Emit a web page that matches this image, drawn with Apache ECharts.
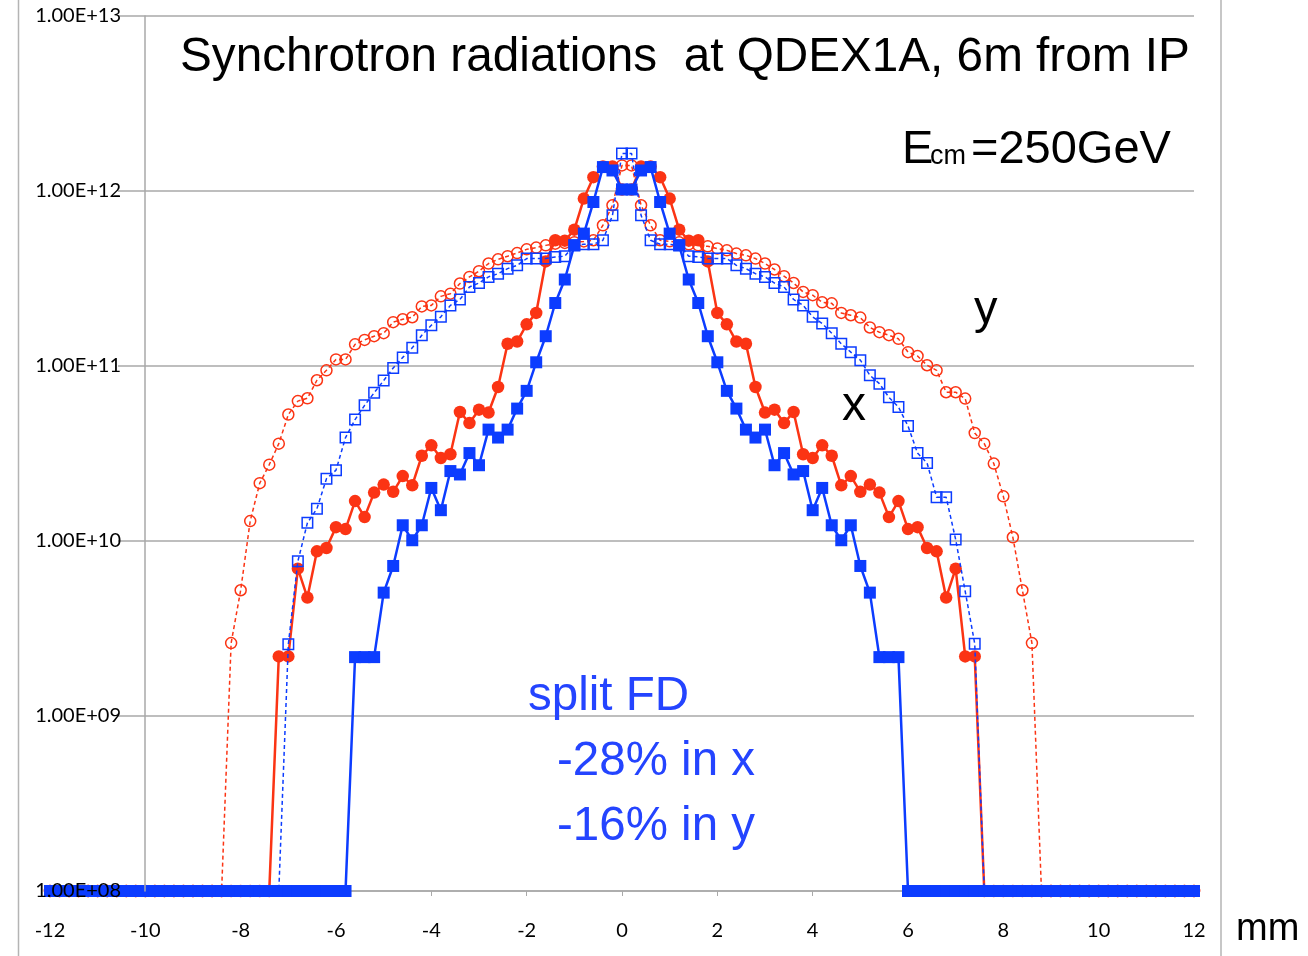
<!DOCTYPE html>
<html><head><meta charset="utf-8">
<script src="https://cdn.jsdelivr.net/npm/echarts@6/dist/echarts.min.js"></script>
<style>html,body{margin:0;padding:0;background:#fff}#c{width:1308px;height:956px}</style>
</head><body><div id="c"></div>
<script>
// x positions (mm)
const xPos = [
 -12,-11.8,-11.6,-11.4,-11.2,-11,-10.8,-10.6,-10.4,-10.2,
 -10,-9.8,-9.6,-9.4,-9.2,-9,-8.8,-8.6,-8.4,-8.2,
 -8,-7.8,-7.6,-7.4,-7.2,-7,-6.8,-6.6,-6.4,-6.2,
 -6,-5.8,-5.6,-5.4,-5.2,-5,-4.8,-4.6,-4.4,-4.2,
 -4,-3.8,-3.6,-3.4,-3.2,-3,-2.8,-2.6,-2.4,-2.2,
 -2,-1.8,-1.6,-1.4,-1.2,-1,-0.8,-0.6,-0.4,-0.2,
 0,0.2,0.4,0.6,0.8,1,1.2,1.4,1.6,1.8,
 2,2.2,2.4,2.6,2.8,3,3.2,3.4,3.6,3.8,
 4,4.2,4.4,4.6,4.8,5,5.2,5.4,5.6,5.8,
 6,6.2,6.4,6.6,6.8,7,7.2,7.4,7.6,7.8,
 8,8.2,8.4,8.6,8.8,9,9.2,9.4,9.6,9.8,
 10,10.2,10.4,10.6,10.8,11,11.2,11.4,11.6,11.8,
 12
];
// y distribution, original FD (red open circles, dashed)
const yOrig = [
 1e8,1e8,1e8,1e8,1e8,1e8,1e8,1e8,1e8,1e8,
 1e8,1e8,1e8,1e8,1e8,1e8,1e8,1e8,1e8,2.61e9,
 5.23e9,1.30e10,2.14e10,2.73e10,3.60e10,5.28e10,6.30e10,6.54e10,8.29e10,9.45e10,
 1.09e11,1.09e11,1.33e11,1.41e11,1.48e11,1.54e11,1.78e11,1.85e11,1.90e11,2.19e11,
 2.22e11,2.50e11,2.59e11,2.96e11,3.23e11,3.48e11,3.85e11,4.07e11,4.24e11,4.42e11,
 4.64e11,4.75e11,4.89e11,5.00e11,5.05e11,5.10e11,5.15e11,5.23e11,6.37e11,8.29e11,
 1.40e12,1.40e12,8.29e11,6.37e11,5.23e11,5.16e11,5.09e11,4.96e11,4.89e11,4.83e11,
 4.69e11,4.58e11,4.39e11,4.29e11,4.11e11,3.85e11,3.56e11,3.26e11,2.98e11,2.65e11,
 2.54e11,2.31e11,2.28e11,2.01e11,1.95e11,1.89e11,1.66e11,1.56e11,1.50e11,1.43e11,
 1.20e11,1.14e11,1.01e11,9.45e10,7.08e10,7.08e10,6.51e10,4.14e10,3.60e10,2.77e10,
 1.80e10,1.05e10,5.23e9,2.61e9,1e8,1e8,1e8,1e8,1e8,1e8,
 1e8,1e8,1e8,1e8,1e8,1e8,1e8,1e8,1e8,1e8,
 1e8
];
// x distribution, original FD (red filled circles, solid)
const xOrig = [
 1e8,1e8,1e8,1e8,1e8,1e8,1e8,1e8,1e8,1e8,
 1e8,1e8,1e8,1e8,1e8,1e8,1e8,1e8,1e8,1e8,
 1e8,1e8,1e8,1e8,2.19e9,2.19e9,6.95e9,4.75e9,8.73e9,9.12e9,
 1.20e10,1.17e10,1.69e10,1.37e10,1.89e10,2.10e10,1.91e10,2.35e10,2.08e10,3.07e10,
 3.52e10,2.98e10,3.13e10,5.46e10,4.72e10,5.63e10,5.42e10,7.59e10,1.34e11,1.38e11,
 1.73e11,2.01e11,3.96e11,5.23e11,5.20e11,6.01e11,9.05e11,1.20e12,1.38e12,1.38e12,
 1.02e12,1.02e12,1.38e12,1.38e12,1.20e12,9.05e11,6.01e11,5.20e11,5.23e11,3.96e11,
 2.01e11,1.73e11,1.38e11,1.34e11,7.59e10,5.42e10,5.63e10,4.72e10,5.46e10,3.13e10,
 2.98e10,3.52e10,3.07e10,2.08e10,2.35e10,1.91e10,2.10e10,1.89e10,1.37e10,1.69e10,
 1.17e10,1.20e10,9.12e9,8.73e9,4.75e9,6.95e9,2.19e9,2.19e9,1e8,1e8,
 1e8,1e8,1e8,1e8,1e8,1e8,1e8,1e8,1e8,1e8,
 1e8,1e8,1e8,1e8,1e8,1e8,1e8,1e8,1e8,1e8,
 1e8
];
// y distribution, split FD (blue open squares, dashed)
const ySplit = [
 1e8,1e8,1e8,1e8,1e8,1e8,1e8,1e8,1e8,1e8,
 1e8,1e8,1e8,1e8,1e8,1e8,1e8,1e8,1e8,1e8,
 1e8,1e8,1e8,1e8,1e8,2.57e9,7.65e9,1.27e10,1.53e10,2.27e10,
 2.54e10,3.90e10,4.94e10,5.96e10,7.03e10,8.26e10,9.74e10,1.12e11,1.27e11,1.50e11,
 1.71e11,1.91e11,2.22e11,2.40e11,2.83e11,2.98e11,3.23e11,3.37e11,3.60e11,3.76e11,
 4.11e11,4.11e11,4.11e11,4.20e11,4.24e11,4.89e11,4.96e11,4.96e11,5.23e11,7.26e11,
 1.64e12,1.64e12,7.26e11,5.23e11,4.96e11,4.96e11,4.89e11,4.24e11,4.20e11,4.11e11,
 4.11e11,4.11e11,3.76e11,3.60e11,3.37e11,3.23e11,2.98e11,2.83e11,2.40e11,2.22e11,
 1.91e11,1.75e11,1.54e11,1.34e11,1.20e11,1.08e11,8.85e10,7.93e10,6.62e10,5.83e10,
 4.54e10,3.18e10,2.79e10,1.78e10,1.78e10,1.02e10,5.16e9,2.59e9,1e8,1e8,
 1e8,1e8,1e8,1e8,1e8,1e8,1e8,1e8,1e8,1e8,
 1e8,1e8,1e8,1e8,1e8,1e8,1e8,1e8,1e8,1e8,
 1e8
];
// x distribution, split FD (blue filled squares, solid)
const xSplit = [
 1e8,1e8,1e8,1e8,1e8,1e8,1e8,1e8,1e8,1e8,
 1e8,1e8,1e8,1e8,1e8,1e8,1e8,1e8,1e8,1e8,
 1e8,1e8,1e8,1e8,1e8,1e8,1e8,1e8,1e8,1e8,
 1e8,1e8,2.17e9,2.17e9,2.17e9,5.07e9,7.20e9,1.23e10,1.01e10,1.23e10,
 2.01e10,1.50e10,2.51e10,2.40e10,3.18e10,2.71e10,4.33e10,3.90e10,4.33e10,5.71e10,
 7.21e10,1.05e11,1.48e11,2.29e11,3.12e11,4.89e11,5.71e11,8.65e11,1.37e12,1.31e12,
 1.02e12,1.02e12,1.31e12,1.37e12,8.65e11,5.71e11,4.89e11,3.12e11,2.29e11,1.48e11,
 1.05e11,7.21e10,5.71e10,4.33e10,3.90e10,4.33e10,2.71e10,3.18e10,2.40e10,2.51e10,
 1.50e10,2.01e10,1.23e10,1.01e10,1.23e10,7.20e9,5.07e9,2.17e9,2.17e9,2.17e9,
 1e8,1e8,1e8,1e8,1e8,1e8,1e8,1e8,1e8,1e8,
 1e8,1e8,1e8,1e8,1e8,1e8,1e8,1e8,1e8,1e8,
 1e8,1e8,1e8,1e8,1e8,1e8,1e8,1e8,1e8,1e8,
 1e8
];
const xTickInterval = 2;
const yMin = 1e8, yMax = 1e13;

const RED = '#fb3414', BLUE = '#0c3cff', TXTBLUE = '#2444ff', GRID = '#a9a9a9';
const pairs = ys => xPos.map((x, i) => [x, ys[i]]);
const fmtE = v => { const e = Math.round(Math.log10(v)); return '1.00E+' + (e < 10 ? '0' : '') + e; };
const F = '"Liberation Sans", Arial, sans-serif';
const txt = (x, y, text, size, color) => ({
  type: 'text', x: x, y: y, z: 100,
  style: { text: text, font: size + 'px ' + F, fill: color || '#000', textAlign: 'left', textVerticalAlign: 'middle', verticalAlign: 'middle' }
});

const chart = echarts.init(document.getElementById('c'), null, { renderer: 'canvas' });
chart.setOption({
  animation: false,
  grid: [
    { left: 50, right: 114, top: 16, height: 875 },
    { left: 118, right: 114, top: 16, height: 875 }
  ],
  xAxis: [
    { type: 'value', gridIndex: 0, min: -12, max: 12, interval: xTickInterval,
      axisLine: { onZero: false, lineStyle: { color: GRID, width: 1.5 } },
      axisTick: { show: true, length: 5, lineStyle: { color: GRID } },
      axisLabel: { color: '#000', fontSize: 20, fontFamily: 'Lato', margin: 30 },
      splitLine: { show: false } },
    { type: 'value', gridIndex: 1, min: 0, max: 1, show: false }
  ],
  yAxis: [
    { type: 'log', logBase: 10, gridIndex: 0, min: yMin, max: yMax, offset: -95, z: 10,
      axisLine: { show: true, onZero: false, lineStyle: { color: GRID, width: 1.5 } },
      axisTick: { show: false },
      axisLabel: { formatter: fmtE, color: '#000', fontSize: 20, fontFamily: 'Lato', margin: 24 },
      splitLine: { show: false }, minorTick: { show: false } },
    { type: 'log', logBase: 10, gridIndex: 1, min: yMin, max: yMax,
      axisLine: { show: false }, axisTick: { show: false }, axisLabel: { show: false },
      splitLine: { show: true, lineStyle: { color: GRID, width: 1.5 } } }
  ],
  series: [
    { type: 'line', name: 'y original', data: pairs(yOrig), clip: false, z: 2,
      symbol: 'circle', symbolSize: 11,
      lineStyle: { color: RED, width: 1.5, type: [4, 3] },
      itemStyle: { color: 'rgba(255,255,255,0)', borderColor: RED, borderWidth: 1.5 } },
    { type: 'line', name: 'x original', data: pairs(xOrig), clip: false, z: 3,
      symbol: 'circle', symbolSize: 12.5,
      lineStyle: { color: RED, width: 2.5 },
      itemStyle: { color: RED } },
    { type: 'line', name: 'y split', data: pairs(ySplit), clip: false, z: 4,
      symbol: 'rect', symbolSize: 10.5,
      lineStyle: { color: BLUE, width: 1.5, type: [4, 3] },
      itemStyle: { color: 'rgba(255,255,255,0)', borderColor: BLUE, borderWidth: 1.5 } },
    { type: 'line', name: 'x split', data: pairs(xSplit), clip: false, z: 5,
      symbol: 'rect', symbolSize: 12,
      lineStyle: { color: BLUE, width: 2.5 },
      itemStyle: { color: BLUE } }
  ],
  graphic: [
    { type: 'line', z: 1, shape: { x1: 18.5, y1: 0, x2: 18.5, y2: 956 }, style: { stroke: '#b4b4b4', lineWidth: 1.5 } },
    { type: 'line', z: 1, shape: { x1: 1221, y1: 0, x2: 1221, y2: 956 }, style: { stroke: '#b4b4b4', lineWidth: 1.5 } },
    txt(180, 58, 'Synchrotron radiations  at QDEX1A, 6m from IP', 47.7),
    txt(902, 150, 'E', 47),
    txt(930, 157, 'cm', 27),
    txt(971, 150, '=250GeV', 47),
    txt(974, 310, 'y', 47),
    txt(842, 407, 'x', 48),
    txt(528, 697, 'split FD', 47.5, TXTBLUE),
    txt(557, 762, '-28% in x', 47.5, TXTBLUE),
    txt(557, 827, '-16% in y', 47.5, TXTBLUE),
    txt(1236, 930, 'mm', 38)
  ]
});
</script>
</body></html>
